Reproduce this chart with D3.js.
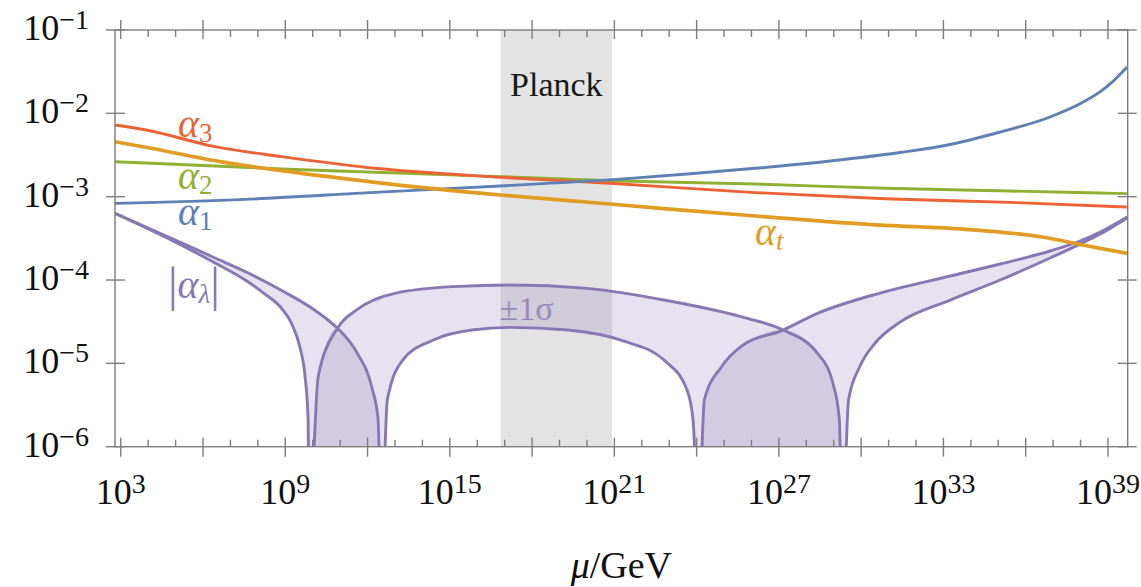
<!DOCTYPE html>
<html>
<head>
<meta charset="utf-8">
<script src="https://cdn.jsdelivr.net/npm/d3@7"></script>
<style>
  body { margin: 0; background: #fff; }
  svg { display: block; }
</style>
</head>
<body>
<svg id="chart" width="1141" height="587" font-family="'Liberation Serif', 'DejaVu Serif', serif"></svg>
<script>
// [log10(mu/GeV), alpha]
const alpha1 = [[2.79, 8.32e-4], [7.53, 9.29e-4], [12.27, 1.127e-3], [16.83, 1.343e-3], [21.57, 1.66e-3],
  [26.13, 2.19e-3], [28.87, 2.68e-3], [31.42, 3.39e-3], [33.25, 4.23e-3], [35.07, 5.97e-3], [36.89, 9.04e-3],
  [38.10, 1.368e-2], [38.72, 1.82e-2], [39.19, 2.44e-2], [39.70, 3.60e-2]];
const alpha2 = [[2.79, 2.63e-3], [6.44, 2.33e-3], [8.87, 2.15e-3], [12.27, 1.96e-3], [16.83, 1.74e-3],
  [20.84, 1.556e-3], [26.13, 1.42e-3], [30.87, 1.26e-3], [35.43, 1.17e-3], [39.69, 1.087e-3]];
const alpha3 = [[2.79, 7.24e-3], [4.01, 6.22e-3], [6.44, 3.98e-3], [8.87, 3.02e-3], [12.27, 2.19e-3],
  [16.83, 1.71e-3], [20.84, 1.45e-3], [26.13, 1.12e-3], [30.87, 9.46e-4], [35.43, 8.55e-4], [39.69, 7.51e-4]];
const alphaT = [[2.79, 4.57e-3], [4.01, 3.87e-3], [6.44, 2.70e-3], [8.87, 2.05e-3], [12.27, 1.486e-3],
  [16.83, 1.047e-3], [20.84, 8.17e-4], [26.13, 5.86e-4], [30.87, 4.53e-4], [33.25, 4.17e-4],
  [35.43, 3.66e-4], [36.71, 3.24e-4], [37.98, 2.67e-4], [39.70, 2.09e-4]];
// |alpha_lambda| for the two ends of the 1 sigma band (1e-7 = zero crossing, below the frame)
const lambdaA = [[2.79, 6.31e-4], [4.62, 3.28e-4], [6.44, 1.60e-4], [7.65, 9.46e-5], [8.26, 6.79e-5],
  [8.87, 4.55e-5], [9.24, 2.96e-5], [9.54, 1.528e-5], [9.72, 7.05e-6], [9.83, 2.21e-6], [9.87, 1e-7],
  [10.20, 6.92e-6], [10.90, 2.63e-5], [11.60, 4.37e-5], [13.00, 6.92e-5], [15.10, 8.32e-5],
  [17.20, 8.71e-5], [20.01, 7.94e-5], [22.81, 5.75e-5], [25.61, 3.63e-5], [27.15, 2.51e-5],
  [28.41, 1.318e-5], [28.97, 5.75e-6], [29.20, 2.2e-6], [29.32, 1e-7],
  [29.54, 3.63e-6], [29.96, 9.29e-6], [30.51, 1.754e-5], [31.42, 3.13e-5], [33.25, 5.75e-5],
  [35.07, 1.0e-4], [36.89, 1.837e-4], [37.98, 2.70e-4], [38.72, 3.56e-4], [39.70, 5.55e-4]];
const lambdaB = [[2.79, 6.31e-4], [4.62, 3.42e-4], [6.44, 1.837e-4], [7.65, 1.213e-4], [8.26, 9.59e-5],
  [8.87, 7.48e-5], [10.09, 4.31e-5], [10.90, 2.63e-5], [11.60, 1.368e-5], [12.16, 5.06e-6],
  [12.38, 2.21e-6], [12.51, 1e-7],
  [12.72, 3.63e-6], [13.28, 1.096e-5], [14.40, 1.905e-5], [15.80, 2.51e-5], [17.20, 2.70e-5],
  [19.31, 2.51e-5], [21.41, 1.82e-5], [22.81, 1.096e-5], [23.65, 4.79e-6], [23.87, 2.09e-6], [24.07, 1e-7],
  [24.28, 3.63e-6], [24.91, 9.12e-6], [25.61, 1.585e-5], [27.15, 2.51e-5], [28.41, 3.98e-5],
  [30.69, 6.98e-5], [33.25, 1.117e-4], [35.07, 1.556e-4], [36.89, 2.23e-4], [37.98, 2.94e-4],
  [38.72, 3.77e-4], [39.70, 5.70e-4]];

const planckBand = [16.85, 20.92];
const xLabelExps = [3, 9, 15, 21, 27, 33, 39];
const xMajorExps = d3.range(3, 40, 3);
const xMinorExps = d3.range(3, 40);
const yLabelExps = [-6, -5, -4, -3, -2, -1];

var colors = {a1: "#5E81B5", a2: "#8FB032", a3: "#EB6235", at: "#E19C24", lam: "#8778B3"};

var svg = d3.select("#chart");
var margin = {top: 30, right: 13.3, bottom: 140.3, left: 115},
  width = 1141 - margin.left - margin.right,
  height = 587 - margin.top - margin.bottom;

var x = d3.scaleLog().domain([Math.pow(10, 2.79), Math.pow(10, 39.72)]).range([0, width]);
var y = d3.scaleLog().domain([1e-6, 1e-1]).range([height, 0]);

var g = svg.append("g").attr("transform", "translate(" + margin.left + "," + margin.top + ")");

g.append("clipPath").attr("id", "plot-clip")
  .append("rect").attr("width", width).attr("height", height);

var plot = g.append("g").attr("clip-path", "url(#plot-clip)");

// Planck band
plot.append("rect")
  .attr("x", x(Math.pow(10, planckBand[0])))
  .attr("width", x(Math.pow(10, planckBand[1])) - x(Math.pow(10, planckBand[0])))
  .attr("y", 0).attr("height", height)
  .attr("fill", "#E3E3E3");

var line = d3.line()
  .curve(d3.curveMonotoneX)
  .x(function(d) { return x(Math.pow(10, d[0])); })
  .y(function(d) { return y(d[1]); });

var below = d3.area()
  .curve(d3.curveMonotoneX)
  .x(function(d) { return x(Math.pow(10, d[0])); })
  .y0(height + 200)
  .y1(function(d) { return y(d[1]); });

// band between the two |alpha_lambda| curves
var back = line(lambdaB.slice().reverse());
plot.append("path")
  .attr("d", line(lambdaA) + "L" + back.slice(1) + "Z")
  .attr("fill", colors.lam)
  .attr("fill-opacity", 0.21);

// where alpha_lambda changes sign the band reaches zero: darker lenses
var lensLeft = lambdaA.filter(function(d) { return d[0] >= 9.87 && d[0] <= 10.90; })
  .concat(lambdaB.filter(function(d) { return d[0] > 10.90 && d[0] <= 12.51; }));
var lensRight = lambdaB.filter(function(d) { return d[0] >= 24.07 && d[0] <= 27.15; })
  .concat(lambdaA.filter(function(d) { return d[0] > 27.15 && d[0] <= 29.32; }));
[lensLeft, lensRight].forEach(function(pts) {
  plot.append("path")
    .attr("d", below(pts))
    .attr("fill", colors.lam)
    .attr("fill-opacity", 0.38);
});

[[lambdaA, colors.lam, 2.9], [lambdaB, colors.lam, 2.9],
 [alpha2, colors.a2, 2.9], [alpha3, colors.a3, 2.9], [alpha1, colors.a1, 2.9], [alphaT, colors.at, 3.7]]
  .forEach(function(s) {
    plot.append("path")
      .attr("d", line(s[0]))
      .attr("fill", "none")
      .attr("stroke", s[1])
      .attr("stroke-width", s[2])
      .attr("stroke-linejoin", "round");
  });

// frame and ticks
var axisColor = "#7d7d7d";
var frame = g.append("g").attr("stroke", axisColor).attr("stroke-width", 1.4).attr("fill", "none");
frame.append("rect").attr("width", width).attr("height", height);

xMinorExps.forEach(function(e) {
  var px = x(Math.pow(10, e));
  var major = xMajorExps.indexOf(e) >= 0;
  frame.append("line").attr("x1", px).attr("x2", px)
    .attr("y1", major ? height + 10 : height).attr("y2", major ? height - 9 : height - 7);
  frame.append("line").attr("x1", px).attr("x2", px)
    .attr("y1", major ? -10 : 0).attr("y2", major ? 9 : 7);
});
yLabelExps.forEach(function(e) {
  var py = y(Math.pow(10, e));
  frame.append("line").attr("x1", -9).attr("x2", 10).attr("y1", py).attr("y2", py);
  frame.append("line").attr("x1", width - 10).attr("x2", width + 9).attr("y1", py).attr("y2", py);
});

function powerLabel(sel, exp) {
  sel.append("tspan").text("10");
  sel.append("tspan").attr("dy", -11).attr("font-size", 28)
    .text((exp < 0 ? "\u2212" : "") + Math.abs(exp));
}

xLabelExps.forEach(function(e) {
  var t = g.append("text")
    .attr("x", x(Math.pow(10, e)))
    .attr("y", height + 57)
    .attr("text-anchor", "middle")
    .attr("font-size", 36)
    .attr("fill", "#111");
  powerLabel(t, e);
});
yLabelExps.forEach(function(e) {
  var t = g.append("text")
    .attr("x", -26)
    .attr("y", y(Math.pow(10, e)) + 10)
    .attr("text-anchor", "end")
    .attr("font-size", 36)
    .attr("fill", "#111");
  powerLabel(t, e);
});

var title = g.append("text")
  .attr("x", width / 2)
  .attr("y", height + 131)
  .attr("text-anchor", "middle")
  .attr("font-size", 38)
  .attr("fill", "#111");
title.append("tspan").attr("font-style", "italic").text("\u03bc");
title.append("tspan").text("/GeV");

g.append("text")
  .attr("x", (x(Math.pow(10, planckBand[0])) + x(Math.pow(10, planckBand[1]))) / 2)
  .attr("y", 66)
  .attr("text-anchor", "middle")
  .attr("font-size", 34)
  .attr("fill", "#1a1a1a")
  .text("Planck");

// curve labels
function alphaLabel(px, py, sub, subItalic, color) {
  var t = g.append("text").attr("x", px).attr("y", py).attr("fill", color).attr("font-size", 40);
  t.append("tspan").attr("font-style", "italic").text("\u03b1");
  t.append("tspan").attr("dy", 5).attr("font-size", 27)
    .attr("font-style", subItalic ? "italic" : "normal").text(sub);
  return t;
}
alphaLabel(63, 107, "3", false, colors.a3);
alphaLabel(63, 159, "2", false, colors.a2);
alphaLabel(63, 195, "1", false, colors.a1);
alphaLabel(640, 215, "t", true, colors.at);

var lamLabel = g.append("text").attr("x", 53).attr("y", 268).attr("fill", colors.lam).attr("font-size", 40);
lamLabel.append("tspan").attr("font-size", 48).attr("dy", 3).text("|");
lamLabel.append("tspan").attr("dy", -3).attr("font-style", "italic").text("\u03b1");
lamLabel.append("tspan").attr("dy", 5).attr("font-size", 27).attr("font-style", "italic").text("\u03bb");
lamLabel.append("tspan").attr("dy", -2).attr("font-size", 48).text("|");

g.append("text")
  .attr("x", x(Math.pow(10, 17.8)))
  .attr("y", 290)
  .attr("text-anchor", "middle")
  .attr("font-size", 34)
  .attr("fill", colors.lam)
  .attr("fill-opacity", 0.8)
  .text("\u00b11\u03c3");
</script>
</body>
</html>
